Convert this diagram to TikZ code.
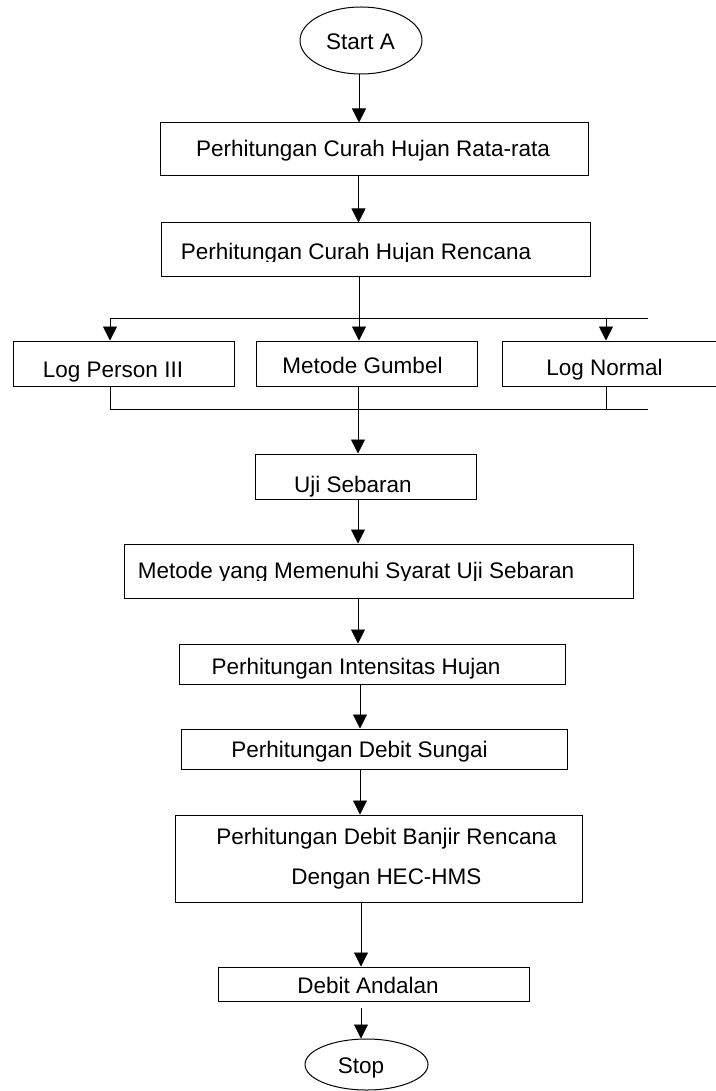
\documentclass[tikz,border=0pt]{standalone}
\usepackage{fontspec}
\setmainfont{Liberation Sans}
\usetikzlibrary{arrows.meta,shapes.geometric}
\begin{document}
\begin{tikzpicture}[x=1pt,y=-1pt,
  box/.style={draw,line width=1pt,inner sep=0pt},
  oval/.style={draw,ellipse,line width=1pt,inner sep=0pt},
  lbl/.style={anchor=base,inner sep=0pt,font=\fontsize{22.5}{27}\selectfont},
  wire/.style={line width=0.8pt},
  arr/.style={wire,-{Triangle[length=14pt,width=14pt]}}]
\useasboundingbox (0,0) rectangle (715,1091);
% shapes
\node[oval,minimum width=122pt,minimum height=67pt] (start) at (361,40.5) {};
\node[box,minimum width=428pt,minimum height=53pt] (b1) at (374,149.5) {};
\node[box,minimum width=429pt,minimum height=53pt] (b2) at (375.5,249.5) {};
\node[box,minimum width=221pt,minimum height=45pt] (lp) at (123.5,363.5) {};
\node[box,minimum width=221pt,minimum height=45pt] (mg) at (366.5,363.5) {};
\node[box,minimum width=214pt,minimum height=45pt] (lnb) at (609,363.5) {};
\node[box,minimum width=221pt,minimum height=45pt] (uji) at (365.5,476.5) {};
\node[box,minimum width=509pt,minimum height=54pt] (my) at (378.5,571) {};
\node[box,minimum width=386pt,minimum height=40pt] (int) at (372,664) {};
\node[box,minimum width=386pt,minimum height=40pt] (ds) at (374,749) {};
\node[box,minimum width=407pt,minimum height=87pt] (bj) at (378.5,858.5) {};
\node[box,minimum width=311pt,minimum height=34pt] (da) at (373.5,984) {};
\node[oval,minimum width=123pt,minimum height=51pt] (stop) at (366.5,1064.5) {};
% labels
\node[lbl] (tstart) at (360.5,50) {Start A};
\node[lbl] (tb1) at (373,157) {Perhitungan Curah Hujan Rata-rata};
\begin{scope}
\clip (161,224) rectangle (590,261.5);
\node[lbl] (tb2) at (356,259) {Perhitungan Curah Hujan Rencana};
\end{scope}
\node[lbl] (tlp) at (113,377) {Log Person III};
\node[lbl] (tmg) at (362.5,373) {Metode Gumbel};
\node[lbl] (tln) at (604.5,375) {Log Normal};
\node[lbl] (tuji) at (353,492) {Uji Sebaran};
\begin{scope}
\clip (124,545) rectangle (633,580.5);
\node[lbl] (tmy) at (356,578) {Metode yang Memenuhi Syarat Uji Sebaran};
\end{scope}
\node[lbl] (tint) at (356,674) {Perhitungan Intensitas Hujan};
\node[lbl] (tds) at (359.5,757) {Perhitungan Debit Sungai};
\node[lbl] (tbj1) at (386.5,844) {Perhitungan Debit Banjir Rencana};
\node[lbl] (tbj2) at (386.5,884) {Dengan HEC-HMS};
\node[lbl] (tda) at (368,993) {Debit Andalan};
\node[lbl] (tstop) at (361,1073) {Stop};
% fork coordinates
\coordinate (fL) at (110,318);
\coordinate (fM) at (359,318);
\coordinate (fN) at (606,318);
\coordinate (fR) at (648,318);
\coordinate (jL) at (110,409);
\coordinate (jM) at (358,409);
\coordinate (jN) at (606,409);
\coordinate (jR) at (648,409);
% connectors
\draw[arr] ([xshift=-2pt]start.south) -- ([xshift=-2pt]start.south |- b1.north);
\draw[arr] ([xshift=-15.5pt]b1.south) -- ([xshift=-15.5pt]b1.south |- b2.north);
\draw[wire] (fM |- b2.south) -- (fM);
\draw[wire] (fL) -- (fR);
\draw[arr] (fL) -- (fL |- lp.north);
\draw[arr] (fM) -- (fM |- mg.north);
\draw[arr] (fN) -- (fN |- lnb.north);
\draw[wire] (jL |- lp.south) -- (jL);
\draw[wire] (jM |- mg.south) -- (jM);
\draw[wire] (jN |- lnb.south) -- (jN);
\draw[wire] (jL) -- (jR);
\draw[arr] (jM) -- (jM |- uji.north);
\draw[arr] (jM |- uji.south) -- (jM |- my.north);
\draw[arr] (jM |- my.south) -- (jM |- int.north);
\draw[arr] ([xshift=-12pt]int.south) -- ([xshift=-12pt]int.south |- ds.north);
\draw[arr] ([xshift=-14pt]ds.south) -- ([xshift=-14pt]ds.south |- bj.north);
\draw[arr] ([xshift=-17.5pt]bj.south) -- ([xshift=-17.5pt]bj.south |- da.north);
\draw[arr] ([xshift=-12.5pt,yshift=-6pt]da.south) -- ([xshift=-12.5pt]da.south |- stop.north);
\end{tikzpicture}
\end{document}
